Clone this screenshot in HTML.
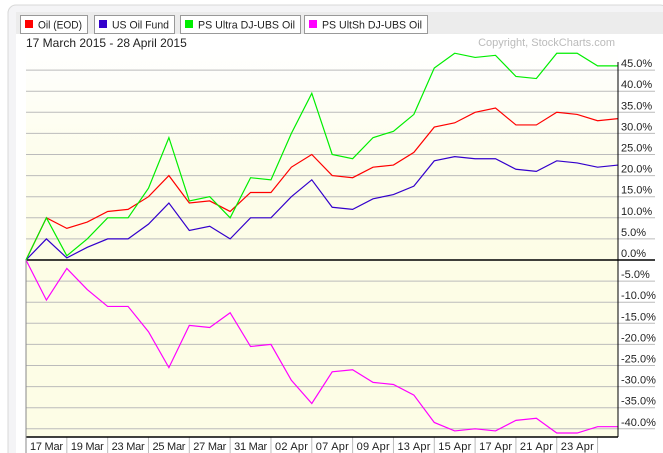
<!DOCTYPE html>
<html><head><meta charset="utf-8"><style>
body{margin:0;background:#fff;font-family:"Liberation Sans",Arial,sans-serif;}
#wrap{position:relative;width:663px;height:453px;overflow:hidden;}
svg text{font-family:"Liberation Sans",Arial,sans-serif;}
</style></head><body>
<div id="wrap">
<svg id="chart" width="663" height="453">
<defs><linearGradient id="bg" x1="0" y1="0" x2="0" y2="1">
<stop offset="0" stop-color="#ffffff"/><stop offset="0.5" stop-color="#fdfdec"/><stop offset="1" stop-color="#fdfde6"/></linearGradient></defs>
<rect x="8" y="5" width="660" height="460" rx="8" fill="#f4f4f6" stroke="#d8d8d8"/>
<rect x="16" y="12" width="650" height="22" fill="#ececec"/>
<rect x="16" y="34" width="650" height="420" fill="#ffffff"/>
<rect x="26" y="48" width="592" height="212" fill="url(#bg)"/>
<rect x="26" y="260" width="592" height="177" fill="#fdfde6"/>
<g id="legend"></g>
<text x="26" y="47" font-size="12" fill="#222">17 March 2015 - 28 April 2015</text>
<text x="615" y="46" font-size="11" fill="#bbb" text-anchor="end">Copyright, StockCharts.com</text>
<g id="grid"></g><g id="series"></g><g id="axes"></g>
</svg></div>
<script>
const dates = ["17 Mar","19 Mar","23 Mar","25 Mar","27 Mar","31 Mar","02 Apr","07 Apr","09 Apr","13 Apr","15 Apr","17 Apr","21 Apr","23 Apr"];
const yTicks = [45,40,35,30,25,20,15,10,5,0,-5,-10,-15,-20,-25,-30,-35,-40];
const oilEOD = [0,10,7.5,9,11.5,12,15,20,13.5,14,11.5,16,16,22,25,20,19.5,22,22.5,25.5,31.5,32.5,35,36,32,32,35,34.5,33,33.5];
const usOilFund = [0,5,0.5,3,5,5,8.5,13.5,7,8,5,10,10,15,19,12.5,12,14.5,15.5,17.5,23.5,24.5,24,24,21.5,21,23.5,23,22,22.5];
const psUltra = [0,10,1,5,10,10,17,29,14,15,10,19.5,19,30,39.5,25,24,29,30.5,34.5,45.5,49,48,48.5,43.5,43,49,49,46,46];
const psUltSh = [0,-9.5,-2,-7,-11,-11,-17,-25.5,-15.5,-16,-12.5,-20.5,-20,-28.5,-34,-26.5,-26,-29,-29.5,-32,-38.5,-40.5,-40,-40.5,-38,-37.5,-41,-41,-39.5,-39.5];
const seriesNames = ["Oil (EOD)","US Oil Fund","PS Ultra DJ-UBS Oil","PS UltSh DJ-UBS Oil"];
const seriesColors = ["#ff0000","#3300cc","#00ee00","#ff00ff"];
const NS="http://www.w3.org/2000/svg";
const X0=26,X1=618,Y0=260,PPU=4.22,N=oilEOD.length;
const step=(X1-X0)/(N-1);
function xs(i){return X0+i*step;}
function ys(v){return Y0-v*PPU;}
function mk(t,a,p){const e=document.createElementNS(NS,t);for(const k in a)e.setAttribute(k,a[k]);p.appendChild(e);return e;}
const grid=document.getElementById('grid'),axes=document.getElementById('axes'),ser=document.getElementById('series'),leg=document.getElementById('legend');
yTicks.forEach(v=>{
 const l=mk('line',{x1:X0,x2:655,y1:ys(v),y2:ys(v),stroke:v===0?'#000':'#bbb','stroke-width':v===0?1.5:1},grid);
 
 
 const t=mk('text',{x:621,y:ys(v)-3,'font-size':11,fill:'#222'},axes);
 t.textContent=v.toFixed(1)+'%';
 
 
});
for(let i=0;i<=dates.length;i++){
 const x=X0+i*2*step;
 const l=mk('line',{x1:x,x2:x,y1:437,y2:453,stroke:'#bbb'},axes);
 
 
}
dates.forEach((d,i)=>{
 const t=mk('text',{x:X0+i*2*step+4,y:450,'font-size':11,fill:'#222',textLength:33,lengthAdjust:'spacing'},axes);
 t.textContent=d;
 
 
});
const bx=mk('line',{x1:X0,x2:X1,y1:437,y2:437,stroke:'#000','stroke-width':1.5},axes);


const ry=mk('line',{x1:X1,x2:X1,y1:62,y2:437,stroke:'#000'},axes);


const lx=mk('line',{x1:X0,x2:X0,y1:260,y2:453,stroke:'#888'},axes);


[oilEOD,usOilFund,psUltra,psUltSh].forEach((arr,k)=>{
 const p=mk('polyline',{points:arr.map((v,i)=>xs(i)+','+ys(v)).join(' '),fill:'none',stroke:seriesColors[k],'stroke-width':1.2},ser);
 
 
});
const lefts=[20,94,180,304],rights=[87,174,300,427];
seriesNames.forEach((n,k)=>{
 const g=mk('g',{},leg);
 
 
 mk('rect',{x:lefts[k]+0.5,y:15.5,width:rights[k]-lefts[k],height:18,fill:'#fff',stroke:'#999'},g);
 mk('rect',{x:lefts[k]+5,y:20,width:8,height:8,fill:seriesColors[k]},g);
 const t=mk('text',{x:lefts[k]+18,y:28.5,'font-size':11,fill:'#222',textLength:rights[k]-lefts[k]-23,lengthAdjust:'spacingAndGlyphs'},g);t.textContent=n;
});
</script>
</body></html>
